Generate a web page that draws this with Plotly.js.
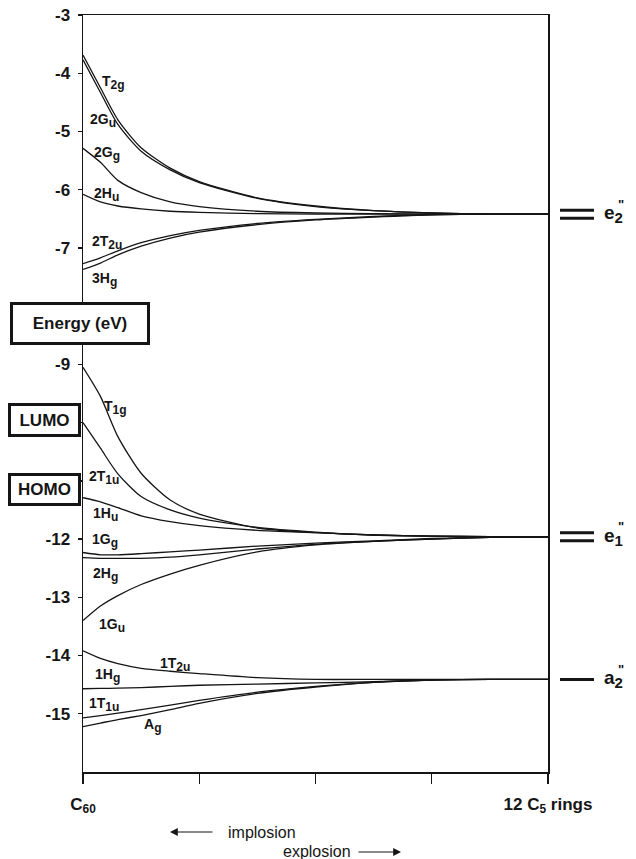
<!DOCTYPE html>
<html>
<head>
<meta charset="utf-8">
<script src="https://cdn.plot.ly/plotly-3.0.1.min.js"></script>
<style>html,body{margin:0;padding:0;background:#fff;}#chart{width:636px;height:859px;}</style>
</head>
<body>
<div id="chart"></div>
<script>
// ---- data ----
const X = [0, 0.15, 0.3, 0.5, 0.75, 1.0, 1.5, 2.0, 2.5, 3.0, 3.5, 4.0];

// upper group -> e2''
const T2g  = [-3.69, -4.25, -4.80, -5.28, -5.63, -5.86, -6.14, -6.28, -6.36, -6.40, -6.42, -6.42];
const G2u  = [-3.77, -4.33, -4.88, -5.34, -5.66, -5.88, -6.15, -6.29, -6.36, -6.40, -6.42, -6.42];
const G2g  = [-5.29, -5.53, -5.84, -6.05, -6.21, -6.29, -6.37, -6.40, -6.41, -6.42, -6.42, -6.42];
const H2u  = [-6.08, -6.21, -6.28, -6.33, -6.37, -6.39, -6.41, -6.42, -6.42, -6.42, -6.42, -6.42];
const T2u2 = [-7.27, -7.17, -7.05, -6.91, -6.79, -6.70, -6.58, -6.51, -6.46, -6.43, -6.42, -6.42];
const H3g  = [-7.37, -7.26, -7.12, -6.97, -6.83, -6.73, -6.60, -6.52, -6.47, -6.43, -6.42, -6.42];

// middle group -> e1''
const T1g  = [-9.05, -9.55, -10.24, -10.87, -11.33, -11.57, -11.81, -11.89, -11.93, -11.95, -11.96, -11.96];
const T1u2 = [-10.00, -10.44, -10.88, -11.27, -11.50, -11.64, -11.80, -11.88, -11.93, -11.95, -11.96, -11.96];
const H1u  = [-11.29, -11.36, -11.46, -11.60, -11.70, -11.77, -11.85, -11.89, -11.93, -11.95, -11.96, -11.96];
const G1g  = [-12.23, -12.27, -12.27, -12.25, -12.22, -12.19, -12.12, -12.07, -12.03, -11.99, -11.97, -11.96];
const H2g  = [-12.32, -12.33, -12.33, -12.33, -12.31, -12.27, -12.17, -12.09, -12.04, -12.00, -11.97, -11.96];
const G1u  = [-13.40, -13.15, -12.97, -12.78, -12.60, -12.45, -12.22, -12.10, -12.04, -12.00, -11.97, -11.96];

// lower group -> a2''
const T2u1 = [-13.92, -14.05, -14.14, -14.22, -14.27, -14.31, -14.38, -14.41, -14.41, -14.41, -14.41, -14.41];
const H1g  = [-14.57, -14.565, -14.56, -14.55, -14.53, -14.51, -14.49, -14.47, -14.45, -14.42, -14.41, -14.41];
const T1u1 = [-15.07, -15.03, -14.99, -14.93, -14.85, -14.77, -14.63, -14.53, -14.46, -14.42, -14.41, -14.41];
const Ag   = [-15.22, -15.16, -15.10, -15.03, -14.93, -14.82, -14.65, -14.54, -14.46, -14.42, -14.41, -14.41];

const seriesMain = ['T', '2G', '2G', '2H', '2T', '3H', 'T', '2T', '1H', '1G', '2H', '1G', '1T', '1H', '1T', 'A'];
const seriesSub  = ['2g', 'u', 'g', 'u', '2u', 'g', '1g', '1u', 'u', 'g', 'g', 'u', '2u', 'g', '1u', 'g'];
const seriesValues = [T2g, G2u, G2g, H2u, T2u2, H3g, T1g, T1u2, H1u, G1g, H2g, G1u, T2u1, H1g, T1u1, Ag];

const yTickVals = [-3, -4, -5, -6, -7, -8, -9, -10, -11, -12, -13, -14, -15];
const yTickText = ['-3', '-4', '-5', '-6', '-7', ' ', '-9', ' ', ' ', '-12', '-13', '-14', '-15'];
const xTickVals = [0, 1, 2, 3, 4];
const xTickText = ['C<sub>60</sub>', ' ', ' ', ' ', '12 C<sub>5</sub> rings'];

const limitNames = ['e', 'e', 'a'];
const limitSubs = ['2', '1', '2'];
const limitSeries = [T2g, T1g, T2u1];
const limitLineCount = [2, 2, 1];

// ---- layout helpers (positions only) ----
const labelPos = [
  [0.146, -4.12], [0.043, -4.77], [0.077, -5.35], [0.077, -6.04], [0.06, -6.87], [0.06, -7.5],
  [0.163, -9.70], [0.037, -10.91], [0.069, -11.54], [0.06, -11.99], [0.069, -12.57], [0.12, -13.45],
  [0.645, -14.12], [0.086, -14.31], [0.034, -14.81], [0.51, -15.17]
];

const FONT = 'Liberation Sans, Arial, Helvetica, sans-serif';
const INK = '#151515';

const traces = seriesValues.map((vals, i) => ({
  type: 'scatter', mode: 'lines', x: X, y: vals, name: seriesMain[i] + seriesSub[i],
  line: {color: INK, width: 1.3, shape: 'spline', smoothing: 0.7}, hoverinfo: 'skip', showlegend: false
}));

const annotations = [];
seriesMain.forEach((nm, i) => {
  annotations.push({
    x: labelPos[i][0], y: labelPos[i][1], xref: 'x', yref: 'y',
    text: nm + '<sub><span style="font-size:12px">' + seriesSub[i] + '</span></sub>', showarrow: false,
    xanchor: 'left', yanchor: 'middle', yshift: -2,
    font: {family: FONT, size: 14, weight: 'bold', color: INK}
  });
});

const shapes = [];
const L = 83, PW = 465, T = 15, PH = 757;
const px2x = p => (p - L) / PW;
const px2y = p => 1 - (p - T) / PH;

limitSeries.forEach((s, i) => {
  const lvl = s[s.length - 1];
  const offs = limitLineCount[i] === 2 ? [-4, 4] : [0];
  offs.forEach(o => shapes.push({
    type: 'line', xref: 'paper', yref: 'y', ysizemode: 'pixel', yanchor: lvl,
    x0: px2x(560), x1: px2x(594), y0: o, y1: o, line: {color: INK, width: 3}
  }));
  annotations.push({
    x: px2x(602), y: lvl, xref: 'paper', yref: 'y', xanchor: 'left', yanchor: 'middle',
    text: limitNames[i] + '<sub><span style="font-size:15px">' + limitSubs[i] + '</span></sub>', showarrow: false, yshift: 0,
    font: {family: FONT, size: 19, weight: 'bold', color: INK}
  });
  annotations.push({
    x: px2x(616), y: lvl, xref: 'paper', yref: 'y', xanchor: 'left', yanchor: 'middle',
    text: '"', showarrow: false, yshift: 10,
    font: {family: FONT, size: 13, weight: 'bold', color: INK}
  });
});

// boxed labels
const boxes = [
  {text: 'Energy (eV)', cx: 80, cy: 323.5, w: 134, h: 37, size: 17},
  {text: 'LUMO', cx: 44.5, cy: 420, w: 67, h: 28, size: 17},
  {text: 'HOMO', cx: 44.5, cy: 489.5, w: 67, h: 27, size: 17}
];
boxes.forEach(b => annotations.push({
  x: px2x(b.cx), y: px2y(b.cy), xref: 'paper', yref: 'paper', xanchor: 'center', yanchor: 'middle',
  text: b.text, showarrow: false, width: b.w, height: b.h, align: 'center', valign: 'middle',
  bgcolor: '#ffffff', bordercolor: INK, borderwidth: 3, borderpad: 0,
  font: {family: FONT, size: b.size, weight: 'bold', color: INK}
}));

// implosion / explosion arrows
annotations.push({x: px2x(170), y: px2y(832), xref: 'paper', yref: 'paper', text: '', showarrow: true,
  ax: 44, ay: 0, arrowhead: 2, arrowsize: 1.3, arrowwidth: 1.2, arrowcolor: INK});
annotations.push({x: px2x(226), y: px2y(832), xref: 'paper', yref: 'paper', text: 'implosion', showarrow: false,
  xanchor: 'left', yanchor: 'middle', font: {family: FONT, size: 16, color: INK}});
annotations.push({x: px2x(401), y: px2y(852), xref: 'paper', yref: 'paper', text: '', showarrow: true,
  ax: -44, ay: 0, arrowhead: 2, arrowsize: 1.3, arrowwidth: 1.2, arrowcolor: INK});
annotations.push({x: px2x(353), y: px2y(852), xref: 'paper', yref: 'paper', text: 'explosion', showarrow: false,
  xanchor: 'right', yanchor: 'middle', font: {family: FONT, size: 16, color: INK}});

const layout = {
  width: 636, height: 859,
  margin: {l: L, r: 636 - L - PW, t: T, b: 859 - T - PH, pad: 0},
  paper_bgcolor: '#fff', plot_bgcolor: '#fff',
  showlegend: false,
  xaxis: {
    range: [0, 4], tickvals: xTickVals, ticktext: xTickText, ticks: 'outside', ticklen: 10,
    tickwidth: 1.3, tickcolor: INK, showgrid: false, zeroline: false,
    showline: true, linecolor: INK, linewidth: 1.5, mirror: true,
    tickfont: {family: FONT, size: 17, weight: 'bold', color: INK}, ticklabelstandoff: 6
  },
  yaxis: {
    range: [-16, -3], tickvals: yTickVals, ticktext: yTickText, ticks: 'outside', ticklen: 4,
    tickwidth: 1.3, tickcolor: INK, showgrid: false, zeroline: false,
    showline: true, linecolor: INK, linewidth: 1.5, mirror: true,
    tickfont: {family: FONT, size: 17, weight: 'bold', color: INK}, ticklabelstandoff: 4
  },
  annotations: annotations,
  shapes: shapes
};

Plotly.newPlot('chart', traces, layout, {displayModeBar: false, staticPlot: true});
</script>
</body>
</html>
